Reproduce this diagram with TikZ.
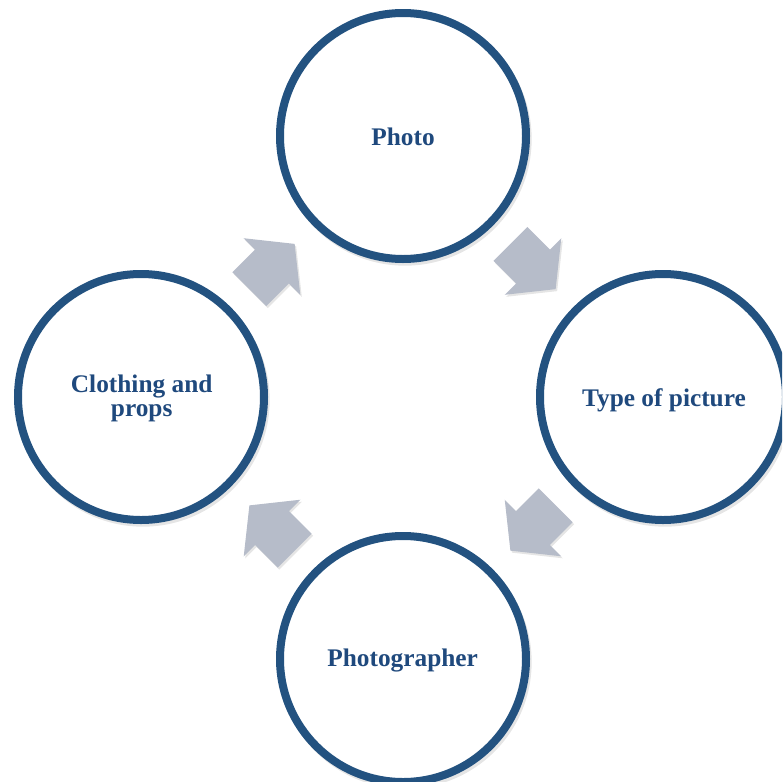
\documentclass[tikz,border=0pt]{standalone}
\usepackage{fontspec}
\setmainfont{Liberation Serif}
\usetikzlibrary{calc}
\definecolor{circblue}{RGB}{35,82,128}
\definecolor{txtblue}{RGB}{31,73,125}
\definecolor{arrowgray}{RGB}{182,188,201}
\tikzset{
  ring/.style={circle, draw=circblue, fill=white, line width=6pt, minimum size=246*0.75pt, inner sep=0pt},
  ringshadow/.style={circle, draw=black, draw opacity=0.10, line width=4pt, minimum size=248*0.75pt, inner sep=0pt},
  lbl/.style={text=txtblue, font=\bfseries\fontsize{19}{18}\selectfont, align=center, inner sep=0pt},
  arrowshape/.pic={
    \fill[pic actions] (32,0) -- (0,40) -- (0,24) -- (-32,24) -- (-32,-24) -- (0,-24) -- (0,-40) -- cycle;
  }
}
\begin{document}
\begin{tikzpicture}[x=0.75pt,y=-0.75pt]
\useasboundingbox (0,0) rectangle (782,782);
\clip (0,0) rectangle (782,782);
% shadows
\node[ringshadow] at (405,139) {};
\node[ringshadow] at (665,400) {};
\node[ringshadow] at (405,662) {};
\node[ringshadow] at (143,400) {};
% circles
\node[ring] (top) at (403,136) {};
\node[ring] (right) at (663,397) {};
\node[ring] (bottom) at (403,659) {};
\node[ring] (left) at (141,397) {};
% arrows
\coordinate (a1) at ($(left)!0.5!(top)$);
\coordinate (a2) at ($(top)!0.5!(right)$);
\coordinate (a3) at ($(right)!0.5!(bottom)$);
\coordinate (a4) at ($(bottom)!0.5!(left)$);
\foreach \c/\r in {a1/45, a2/-45, a3/-135, a4/135}{
  \pic[fill=black, fill opacity=0.10, rotate=\r] at ($(\c)+(1.5,2)$) {arrowshape};
  \pic[fill=arrowgray, rotate=\r] at (\c) {arrowshape};
}
% labels
\node[lbl, anchor=base] (ltop) at (403,145.7) {Photo};
\node[lbl, anchor=base] (lright) at (664,406) {Type of picture};
\node[lbl, anchor=base] (lbottom) at (402.7,666.7) {Photographer};
\node[lbl] (lleft) at (141.7,398.8) {Clothing and\\props};
\end{tikzpicture}
\end{document}
